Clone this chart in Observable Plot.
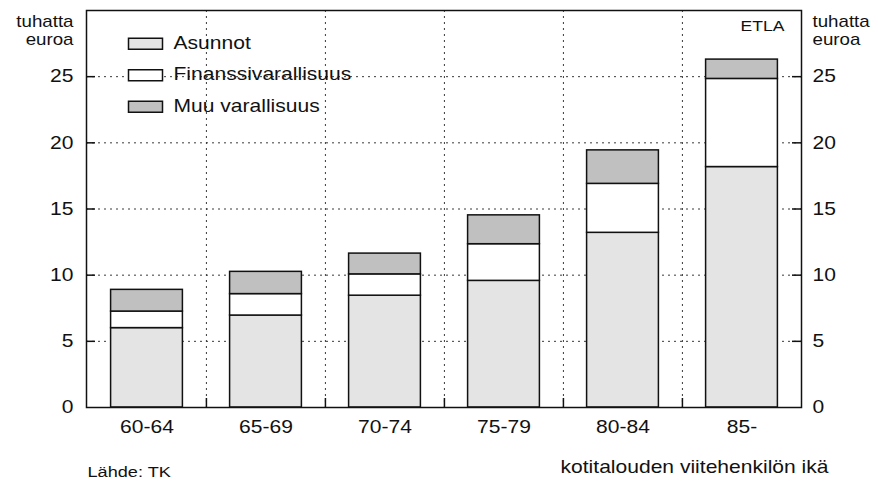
<!DOCTYPE html>
<html>
<head>
<meta charset="utf-8">
<script src="https://cdn.jsdelivr.net/npm/d3@7"></script>
<script src="https://cdn.jsdelivr.net/npm/@observablehq/plot@0.6"></script>
<style>
  html, body { margin: 0; padding: 0; background: #ffffff; }
  #chart { width: 878px; height: 484px; }
</style>
</head>
<body>
<div id="chart"></div>
<script>
// ---- data ----
const ages = ["60-64", "65-69", "70-74", "75-79", "80-84", "85-"];
const series = ["Asunnot", "Finanssivarallisuus", "Muu varallisuus"];
const asunnot  = [6.0, 6.95, 8.45, 9.57, 13.2, 18.17];
const finanssi = [1.25, 1.62, 1.61, 2.77, 3.7, 6.66];
const muu      = [1.64, 1.68, 1.57, 2.18, 2.53, 1.46];
const yTicks = [0, 5, 10, 15, 20, 25];
const gridTicks = [5, 10, 15, 20, 25];
const fills = ["#e4e4e4", "#ffffff", "#c0c0c0"];
const yUnit = "tuhatta\neuroa";
const xTitle = "kotitalouden viitehenkilön ikä";
const source = "Lähde: TK";
const brand = "ETLA";

// long table for stacking
const values = [asunnot, finanssi, muu];
const rows = [];
ages.forEach((a, i) => series.forEach((s, k) => rows.push({age: a, series: s, value: values[k][i]})));

const W = 878, H = 484, ML = 86, MR = 77, MT = 10, MB = 77;
const plotW = W - ML - MR, plotH = H - MT - MB;
const step = plotW / ages.length;
const barInset = step * 0.198;
const stretch = 1.17;

const rectSymbol = {draw(ctx) { ctx.rect(-17, -5.5, 34, 11); }};

const legendMarks = series.flatMap((s, i) => [
  Plot.dot([s], {frameAnchor: "top-left", dx: 59, dy: 33.3 + 31.5 * i, symbol: rectSymbol,
    fill: fills[i], stroke: "#111", strokeWidth: 1.5}),
  Plot.text([s], {frameAnchor: "top-left", dx: 87, dy: 32.5 + 31.5 * i, text: d => d,
    textAnchor: "start", lineAnchor: "middle", fontSize: 18, fill: "#111"})
]);

const chart = Plot.plot({
  width: W, height: H,
  marginLeft: ML, marginRight: MR, marginTop: MT, marginBottom: MB,
  style: {fontFamily: "'Liberation Sans', Arial, sans-serif", fontSize: "18px", color: "#111", background: "#fff"},
  x: {type: "band", domain: ages, padding: 0, axis: null},
  y: {domain: [0, 30], axis: null},
  color: {domain: series, range: fills},
  marks: [
    Plot.ruleY(gridTicks, {stroke: "#3a3a3a", strokeWidth: 1, strokeDasharray: "2,4"}),
    Plot.ruleX(ages.slice(1), {x: d => d, dx: -step / 2, stroke: "#3a3a3a", strokeWidth: 1, strokeDasharray: "2,4"}),
    Plot.ruleX(ages.slice(1), {x: d => d, dx: -step / 2, insetTop: plotH - 9, stroke: "#111", strokeWidth: 1.5}),
    Plot.ruleY(gridTicks, {insetRight: plotW - 9, stroke: "#111", strokeWidth: 1.5}),
    Plot.ruleY(gridTicks, {insetLeft: plotW - 9, stroke: "#111", strokeWidth: 1.5}),
    Plot.barY(rows, {x: "age", y: "value", fill: "series", stroke: "#111", strokeWidth: 1.5,
      insetLeft: barInset, insetRight: barInset}),
    Plot.frame({stroke: "#111", strokeWidth: 1.5}),
    Plot.axisY(yTicks, {anchor: "left", tickSize: 0, tickPadding: 13, fontSize: 18, label: null}),
    Plot.axisY(yTicks, {anchor: "right", tickSize: 0, tickPadding: 11, fontSize: 18, label: null}),
    Plot.axisX(ages, {anchor: "bottom", tickSize: 0, tickPadding: 13, fontSize: 18, label: null}),
    Plot.text([yUnit], {frameAnchor: "top-left", dx: -13, dy: 3.6, textAnchor: "end", lineAnchor: "top", lineHeight: 1.125, fontSize: 16, fill: "#111"}),
    Plot.text([yUnit], {frameAnchor: "top-right", dx: 11, dy: 3.6, textAnchor: "start", lineAnchor: "top", lineHeight: 1.125, fontSize: 16, fill: "#111"}),
    Plot.text([brand], {frameAnchor: "top-right", dx: -17, dy: 10, textAnchor: "end", lineAnchor: "top", fontSize: 15, fill: "#111"}),
    Plot.text([xTitle], {frameAnchor: "bottom-right", dx: 27, dy: 60, textAnchor: "end", lineAnchor: "middle", fontSize: 18, fill: "#111"}),
    Plot.text([source], {frameAnchor: "bottom-left", dx: 1, dy: 65, textAnchor: "start", lineAnchor: "middle", fontSize: 15.5, fill: "#111"}),
    ...legendMarks
  ]
});

// the reference's lettering is horizontally wider than normal Arial: stretch each text about its anchor
chart.querySelectorAll("text").forEach(t => {
  const tr = t.getAttribute("transform") || "";
  t.setAttribute("transform", (tr + ` scale(${stretch},1)`).trim());
});

document.getElementById("chart").appendChild(chart);
</script>
</body>
</html>
